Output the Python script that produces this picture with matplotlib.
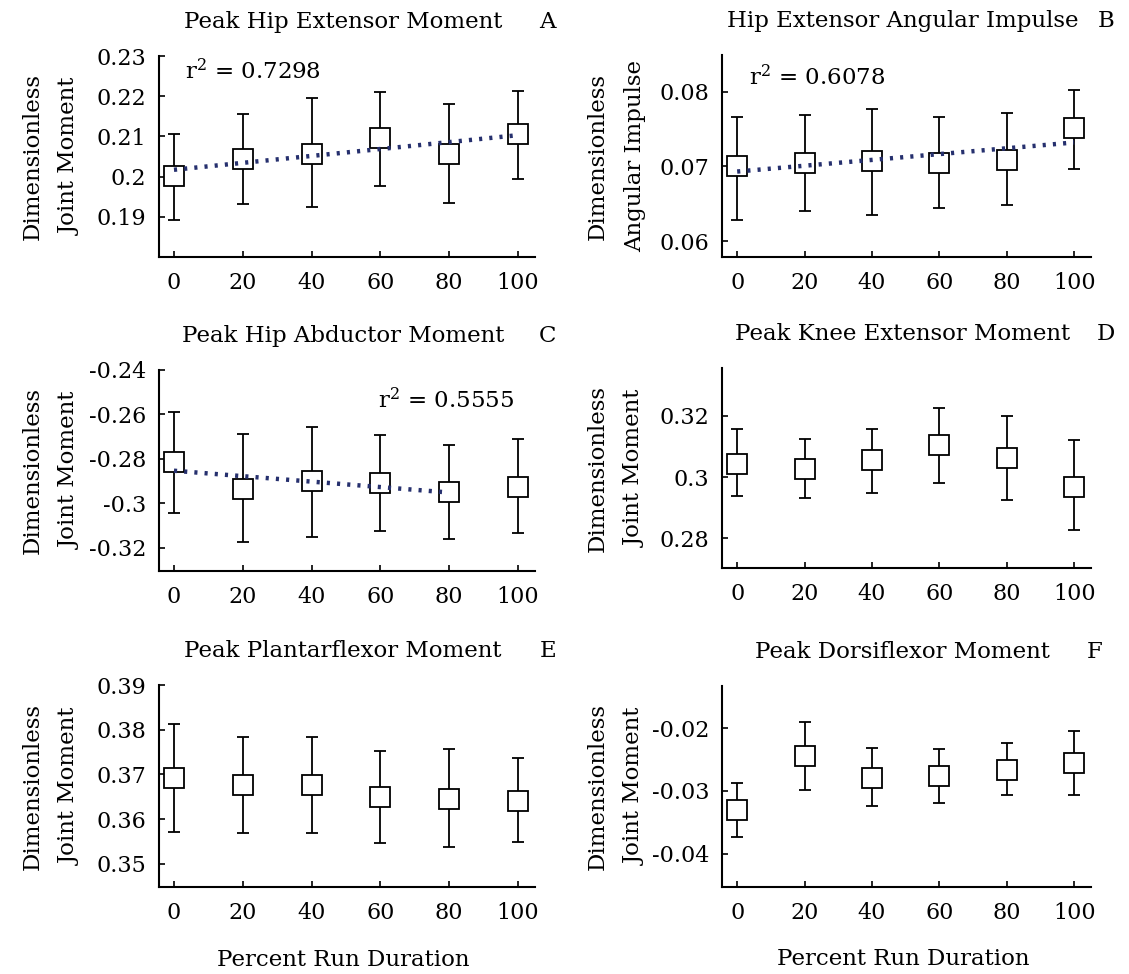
import matplotlib
matplotlib.use("Agg")
import matplotlib.pyplot as plt
from matplotlib.ticker import FuncFormatter
import numpy as np

"""
Six panels: joint moments against percent run duration.
Open squares are means, bars are the spread, dotted line is a linear fit.
"""

percent = [0, 20, 40, 60, 80, 100]

# A - peak hip extensor moment
hip_ext_mean = [0.2001, 0.2043, 0.2057, 0.2097, 0.2057, 0.2105]
hip_ext_hi = [0.2105, 0.2156, 0.2195, 0.2210, 0.2180, 0.2214]
hip_ext_lo = [0.1892, 0.1931, 0.1925, 0.1977, 0.1935, 0.1995]

# B - hip extensor angular impulse
hip_imp_mean = [0.0700, 0.0704, 0.0707, 0.0704, 0.0709, 0.0752]
hip_imp_hi = [0.0766, 0.0769, 0.0777, 0.0766, 0.0771, 0.0802]
hip_imp_lo = [0.0629, 0.0640, 0.0635, 0.0644, 0.0648, 0.0697]

# C - peak hip abductor moment
hip_abd_mean = [-0.2815, -0.2935, -0.2900, -0.2910, -0.2950, -0.2927]
hip_abd_hi = [-0.2587, -0.2687, -0.2657, -0.2692, -0.2736, -0.2710]
hip_abd_lo = [-0.3045, -0.3175, -0.3152, -0.3125, -0.3160, -0.3132]

# D - peak knee extensor moment
knee_mean = [0.3043, 0.3025, 0.3057, 0.3106, 0.3063, 0.2967]
knee_hi = [0.3157, 0.3125, 0.3157, 0.3226, 0.3200, 0.3120]
knee_lo = [0.2937, 0.2932, 0.2949, 0.2980, 0.2924, 0.2826]

# E - peak plantarflexor moment
plantar_mean = [0.3693, 0.3676, 0.3676, 0.3650, 0.3645, 0.3641]
plantar_hi = [0.3812, 0.3783, 0.3783, 0.3753, 0.3757, 0.3736]
plantar_lo = [0.3572, 0.3569, 0.3569, 0.3547, 0.3538, 0.3548]

# F - peak dorsiflexor moment
dorsi_mean = [-0.0330, -0.0245, -0.0279, -0.0276, -0.0267, -0.0255]
dorsi_hi = [-0.0288, -0.0190, -0.0231, -0.0233, -0.0224, -0.0205]
dorsi_lo = [-0.0373, -0.0298, -0.0324, -0.0319, -0.0307, -0.0307]

plt.rcParams['font.family'] = ['DejaVu Serif']
plt.rcParams['mathtext.fontset'] = 'dejavuserif'

W, H = 1129, 974
TEXT_SIZE = 16.5
TICK_SIZE = 16
LINE_COLOR = '#26306e'


def panel(fig, box, mean, hi, lo, title, letter, letter_x, ylabel, ylim, yticks,
          fit_n=0, r2=None, r2_pos=(0.07, 0.92), r2_ha='left', xlabel=None):
    left, top, right, bottom = box
    ax = fig.add_axes([left / W, 1 - bottom / H, (right - left) / W, (bottom - top) / H])

    x = np.array(percent, dtype=float)
    mean = np.array(mean)
    yerr = [mean - np.array(lo), np.array(hi) - mean]

    ax.errorbar(x, mean, yerr=yerr, fmt='none', ecolor='black', elinewidth=1.3,
                capsize=4, capthick=1.3, zorder=2)
    ax.plot(x, mean, 's', ms=14, mfc='white', mec='black', mew=1.3, zorder=3)

    # linear fit through the first fit_n means
    if fit_n > 0:
        slope, icpt = np.polyfit(x[:fit_n], mean[:fit_n], 1)
        xs = x[:fit_n]
        ax.plot(xs, slope * xs + icpt, color=LINE_COLOR, lw=3.2,
                ls=(0, (0.7, 1.6)), zorder=4)
    if r2 is not None:
        ax.text(r2_pos[0], r2_pos[1], r'r$^2$ = ' + r2, transform=ax.transAxes,
                ha=r2_ha, va='center', fontsize=TEXT_SIZE)

    ax.set_xlim(-4.5, 105)
    ax.set_ylim(ylim)
    ax.set_xticks(percent)
    ax.set_yticks(yticks)
    ax.yaxis.set_major_formatter(FuncFormatter(lambda v, p: '%g' % round(v, 4)))
    ax.tick_params(direction='in', length=4, width=1.2, labelsize=TICK_SIZE)
    ax.tick_params(axis='x', pad=11)
    ax.tick_params(axis='y', pad=9)

    for side in ['top', 'right']:
        ax.spines[side].set_visible(False)
    for side in ['left', 'bottom']:
        ax.spines[side].set_linewidth(1.5)

    # two-line label, wide line gap as in the source figure
    ax.set_ylabel(ylabel, fontsize=TEXT_SIZE, linespacing=1.9)
    ax.yaxis.set_label_coords(-0.205, 0.5)

    ax.text(0.49, 1.17, title, transform=ax.transAxes, ha='center', va='center',
            fontsize=TEXT_SIZE)
    ax.text(letter_x, 1.17, letter, transform=ax.transAxes, ha='center', va='center',
            fontsize=TEXT_SIZE)

    if xlabel:
        ax.set_xlabel(xlabel, fontsize=TEXT_SIZE)
        ax.xaxis.set_label_coords(0.49, -0.305)
    return ax


fig = plt.figure(figsize=(W / 100, H / 100), dpi=100)

joint = 'Dimensionless\nJoint Moment'

panel(fig, (158.5, 56, 535, 257), hip_ext_mean, hip_ext_hi, hip_ext_lo,
      'Peak Hip Extensor Moment', 'A', 1.034, joint, (0.18, 0.23),
      [0.19, 0.20, 0.21, 0.22, 0.23], fit_n=6, r2='0.7298', r2_pos=(0.07, 0.92))

panel(fig, (722, 55, 1091, 257), hip_imp_mean, hip_imp_hi, hip_imp_lo,
      'Hip Extensor Angular Impulse', 'B', 1.04, 'Dimensionless\nAngular Impulse',
      (0.0579, 0.0849), [0.06, 0.07, 0.08], fit_n=6, r2='0.6078', r2_pos=(0.073, 0.89))

panel(fig, (158.5, 370, 535, 571), hip_abd_mean, hip_abd_hi, hip_abd_lo,
      'Peak Hip Abductor Moment', 'C', 1.034, joint, (-0.3304, -0.24),
      [-0.32, -0.30, -0.28, -0.26, -0.24], fit_n=5, r2='0.5555',
      r2_pos=(0.944, 0.85), r2_ha='right')

panel(fig, (722, 368, 1091, 568), knee_mean, knee_hi, knee_lo,
      'Peak Knee Extensor Moment', 'D', 1.04, joint, (0.2702, 0.3357),
      [0.28, 0.30, 0.32])

panel(fig, (158.5, 685, 535, 887), plantar_mean, plantar_hi, plantar_lo,
      'Peak Plantarflexor Moment', 'E', 1.034, joint, (0.3448, 0.39),
      [0.35, 0.36, 0.37, 0.38, 0.39], xlabel='Percent Run Duration')

panel(fig, (722, 686, 1091, 887), dorsi_mean, dorsi_hi, dorsi_lo,
      'Peak Dorsiflexor Moment', 'F', 1.01, joint, (-0.0453, -0.0133),
      [-0.04, -0.03, -0.02], xlabel='Percent Run Duration')

plt.savefig('out.png', dpi=100)
